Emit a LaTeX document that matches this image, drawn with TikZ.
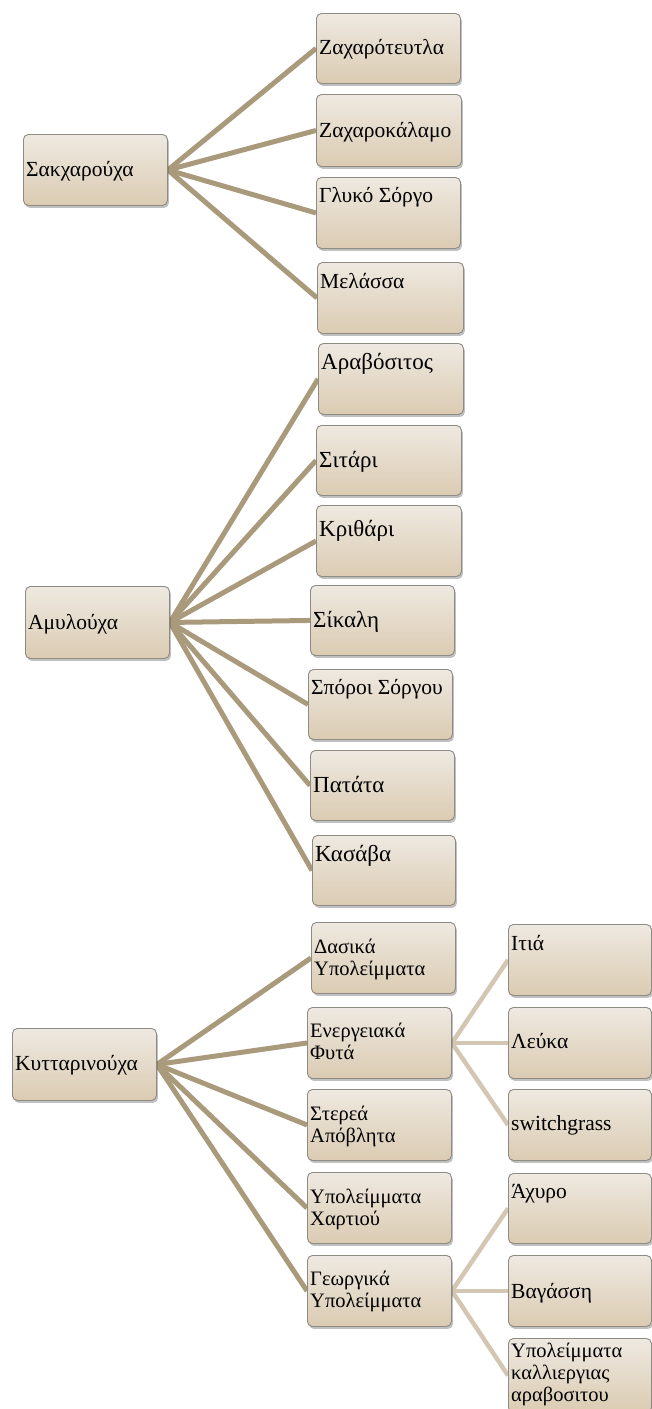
\documentclass[tikz,border=0pt]{standalone}
\usepackage{fontspec}
\setmainfont{Liberation Serif}
\usetikzlibrary{shadows,backgrounds}

\definecolor{boxtop}{HTML}{EEE9E1}
\definecolor{boxbot}{HTML}{DBCBB2}
\definecolor{boxedge}{HTML}{8E8A84}
\definecolor{linkA}{HTML}{AA9A7C}
\definecolor{linkB}{HTML}{D3C7B3}

\tikzset{
  cellbox/.style={rectangle, rounded corners=5pt, draw=boxedge, line width=0.9pt,
    top color=boxtop, bottom color=boxbot, inner sep=0pt,
    drop shadow={shadow xshift=1.5pt, shadow yshift=-2.5pt, opacity=0.35, fill=black!70}},
  lbltext/.style={inner sep=0pt, text=black, font=\fontsize{21.5}{22}\selectfont},
  bigtext/.style={lbltext, font=\fontsize{23}{24}\selectfont},
  twoline/.style={lbltext, font=\fontsize{20.5}{22}\selectfont},
  linkone/.style={draw=linkA, line width=5pt},
  linktwo/.style={draw=linkB, line width=4.5pt}
}

% a box given by its corners (x1,y1)-(x2,y2)
\newcommand\cell[5]{%
  \node[cellbox, minimum width={#4-#2}, minimum height={#5-#3}, anchor=north west] (#1) at (#2,#3) {};}
% its text, with the first baseline #3 below the top edge
\newcommand\lbl[5]{%
  \node[#4, anchor=base west] (#1) at ([xshift=3pt,yshift=-#3pt]#2.north west) {#5};}

\begin{document}
\begin{tikzpicture}[x=1pt,y=-1pt]
\useasboundingbox (0,0) rectangle (652,1409);

% ---- sugar crops
\cell{sak}{23}{134}{167}{205}
\lbl{sakt}{sak}{42}{lbltext}{Σακχαρούχα}
\cell{zt}{316}{13}{460}{83}
\lbl{ztt}{zt}{41}{lbltext}{Ζαχαρότευτλα}
\cell{zk}{316}{94}{461}{166}
\lbl{zkt}{zk}{43}{lbltext}{Ζαχαροκάλαμο}
\cell{gs}{316}{177}{460}{248}
\lbl{gst}{gs}{25}{lbltext}{Γλυκό Σόργο}
\cell{mel}{317}{262}{463}{333}
\lbl{melt}{mel}{26}{lbltext}{Μελάσσα}

% ---- starch crops
\cell{amy}{25}{586}{169}{658}
\lbl{amyt}{amy}{43}{lbltext}{Αμυλούχα}
\cell{ara}{318}{343}{463}{414}
\lbl{arat}{ara}{26}{bigtext}{Αραβόσιτος}
\cell{sit}{316}{425}{461}{495}
\lbl{sitt}{sit}{42}{bigtext}{Σιτάρι}
\cell{kri}{316}{505}{461}{576}
\lbl{krit}{kri}{31}{bigtext}{Κριθάρι}
\cell{sik}{310}{585}{454}{655}
\lbl{sikt}{sik}{42}{bigtext}{Σίκαλη}
\cell{spo}{308}{669}{452}{739}
\lbl{spot}{spo}{25}{lbltext}{Σπόροι Σόργου}
\cell{pat}{310}{750}{454}{820}
\lbl{patt}{pat}{42}{bigtext}{Πατάτα}
\cell{kas}{312}{835}{455}{905}
\lbl{kast}{kas}{26}{bigtext}{Κασάβα}

% ---- cellulosic feedstocks
\cell{kyt}{12}{1028}{156}{1100}
\lbl{kytt}{kyt}{42}{lbltext}{Κυτταρινούχα}
\cell{das}{311}{922}{455}{993}
\lbl{dast}{das}{31}{twoline}{\vtop{\hbox{Δασικά}\hbox{Υπολείμματα}}}
\cell{ene}{307}{1007}{451}{1078}
\lbl{enet}{ene}{30}{twoline}{\vtop{\hbox{Ενεργειακά}\hbox{Φυτά}}}
\cell{ste}{307}{1089}{451}{1160}
\lbl{stet}{ste}{31}{twoline}{\vtop{\hbox{Στερεά}\hbox{Απόβλητα}}}
\cell{xar}{307}{1172}{451}{1243}
\lbl{xart}{xar}{31}{twoline}{\vtop{\hbox{Υπολείμματα}\hbox{Χαρτιού}}}
\cell{geo}{307}{1255}{451}{1326}
\lbl{geot}{geo}{30}{twoline}{\vtop{\hbox{Γεωργικά}\hbox{Υπολείμματα}}}

% ---- third level
\cell{iti}{508}{924}{651}{995}
\lbl{itit}{iti}{26}{lbltext}{Ιτιά}
\cell{lef}{508}{1007}{651}{1078}
\lbl{left}{lef}{41}{lbltext}{Λεύκα}
\cell{swi}{508}{1089}{651}{1160}
\lbl{swit}{swi}{41}{lbltext}{switchgrass}
\cell{axy}{508}{1173}{651}{1243}
\lbl{axyt}{axy}{25}{lbltext}{Άχυρο}
\cell{vag}{508}{1255}{651}{1326}
\lbl{vagt}{vag}{43}{lbltext}{Βαγάσση}
\cell{kal}{508}{1338}{651}{1412}
\lbl{kalt}{kal}{19}{twoline}{\vtop{\hbox{Υπολείμματα}\hbox{καλλιεργιας}\hbox{αραβοσιτου}}}

% ---- connectors
\begin{scope}[on background layer]
  \fill[white] (0,0) rectangle (652,1409);
  \foreach \c in {zt,zk,gs,mel} \draw[linkone] (sak.east) -- (\c.west);
  \foreach \c in {ara,sit,kri,sik,spo,pat,kas} \draw[linkone] (amy.east) -- (\c.west);
  \foreach \c in {das,ene,ste,xar,geo} \draw[linkone] (kyt.east) -- (\c.west);
  \foreach \c in {iti,lef,swi} \draw[linktwo] (ene.east) -- (\c.west);
  \foreach \c in {axy,vag,kal} \draw[linktwo] (geo.east) -- (\c.west);
\end{scope}
\end{tikzpicture}
\end{document}
